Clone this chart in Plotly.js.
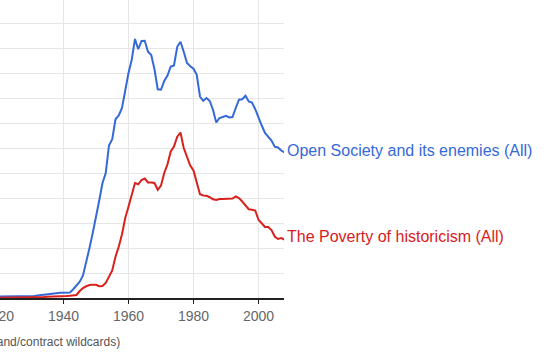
<!DOCTYPE html>
<html>
<head>
<meta charset="utf-8">
<script src="https://cdn.plot.ly/plotly-3.0.1.min.js"></script>
<style>
html,body{margin:0;padding:0;width:550px;height:353px;overflow:hidden;background:#fff;}
#chart{position:absolute;left:-60px;top:0;width:620px;height:353px;}
</style>
</head>
<body>
<div id="chart"></div>
<script>
var years = [1918,1919,1920,1921,1922,1923,1924,1925,1926,1927,1928,1929,
  1930,1931,1932,1933,1934,1935,1936,1937,1938,1939,
  1940,1941,1942,1943,1944,1945,1946,1947,1948,1949,
  1950,1951,1952,1953,1954,1955,1956,1957,1958,1959,
  1960,1961,1962,1963,1964,1965,1966,1967,1968,1969,
  1970,1971,1972,1973,1974,1975,1976,1977,1978,1979,
  1980,1981,1982,1983,1984,1985,1986,1987,1988,1989,
  1990,1991,1992,1993,1994,1995,1996,1997,1998,1999,
  2000,2001,2002,2003,2004,2005,2006,2007,2008];

var openSociety = [0.05,0.05,0.05,0.05,0.05,0.05,0.05,0.05,0.05,0.05,0.05,0.05,
  0.06,0.08,0.10,0.12,0.14,0.16,0.18,0.19,0.20,0.21,
  0.21,0.20,0.22,0.35,0.50,0.65,0.90,1.40,2.00,2.60,
  3.20,3.90,4.60,5.00,6.10,6.35,7.15,7.30,7.60,8.30,
  9.00,9.53,10.36,9.95,10.28,10.29,9.85,9.72,9.15,8.35,
  8.33,8.68,8.90,9.26,9.30,10.05,10.25,9.85,9.40,9.27,
  9.17,8.93,8.06,7.89,8.00,7.88,7.53,7.02,7.20,7.24,
  7.29,7.22,7.24,7.60,7.93,7.95,8.09,7.86,7.82,7.55,
  7.20,6.90,6.60,6.45,6.30,6.05,6.02,5.90,5.82];

var povertyHistoricism = [0.01,0.01,0.01,0.01,0.01,0.01,0.01,0.01,0.01,0.01,0.01,0.01,
  0.02,0.02,0.03,0.03,0.04,0.05,0.05,0.06,0.06,0.07,
  0.07,0.08,0.09,0.10,0.12,0.28,0.40,0.47,0.52,0.53,
  0.53,0.47,0.48,0.60,0.85,1.10,1.65,2.05,2.55,3.20,
  3.65,4.10,4.60,4.55,4.72,4.78,4.62,4.62,4.60,4.33,
  4.50,5.00,5.35,5.86,6.06,6.45,6.62,6.00,5.65,5.30,
  5.10,4.60,4.15,4.10,4.09,4.03,3.95,3.92,3.96,3.96,
  3.96,3.96,3.98,4.06,4.00,3.86,3.68,3.55,3.53,3.50,
  3.13,3.00,2.84,2.84,2.72,2.46,2.36,2.40,2.33];

var seriesNames = ['Open Society and its enemies (All)', 'The Poverty of historicism (All)'];
var seriesColors = ['#3569d8', '#d8201c'];
var xTicks = [1920, 1940, 1960, 1980, 2000];
var noteText = '(click on line/label for focus, right click to expand/contract wildcards)';

var seriesData = [openSociety, povertyHistoricism];
var traces = seriesData.map(function(vals, i){
  return {x: years, y: vals, type: 'scatter', mode: 'lines', name: seriesNames[i],
    line: {color: seriesColors[i], width: 2}, hoverinfo: 'skip'};
});

var yShifts = [2, 3];
var annotations = seriesData.map(function(vals, i){
  return {x: 1, y: vals[vals.length - 1], xref: 'paper', yref: 'y',
    text: seriesNames[i], showarrow: false, xanchor: 'left', yanchor: 'middle',
    xshift: 1, yshift: yShifts[i],
    font: {family: 'Liberation Sans, Arial, sans-serif', size: 16, color: seriesColors[i]}};
});
annotations.push({x: 0.529, y: -0.148, xref: 'paper', yref: 'paper', text: noteText,
  showarrow: false, xanchor: 'right', yanchor: 'middle',
  font: {family: 'Liberation Sans, Arial, sans-serif', size: 12, color: '#555'}});

var layout = {
  width: 620, height: 353,
  margin: {l: 0, r: 276, t: 0, b: 55},
  paper_bgcolor: '#fff', plot_bgcolor: '#fff',
  showlegend: false,
  xaxis: {range: [1902.0, 2007.85], tickvals: xTicks, ticktext: xTicks.map(String),
    showgrid: true, gridcolor: '#e6e6e6', gridwidth: 1,
    showline: true, linecolor: '#222', linewidth: 2,
    ticks: 'outside', ticklen: 4, tickcolor: '#222', tickwidth: 1,
    tickfont: {family: 'Liberation Sans, Arial, sans-serif', size: 14, color: '#666'},
    zeroline: false, fixedrange: true},
  yaxis: {range: [0, 11.92], dtick: 1, tick0: 0, showgrid: true, gridcolor: '#e6e6e6', gridwidth: 1,
    showticklabels: false, zeroline: false, showline: false, ticks: '', fixedrange: true},
  annotations: annotations
};

Plotly.newPlot('chart', traces, layout, {displayModeBar: false, staticPlot: true});
</script>
</body>
</html>
